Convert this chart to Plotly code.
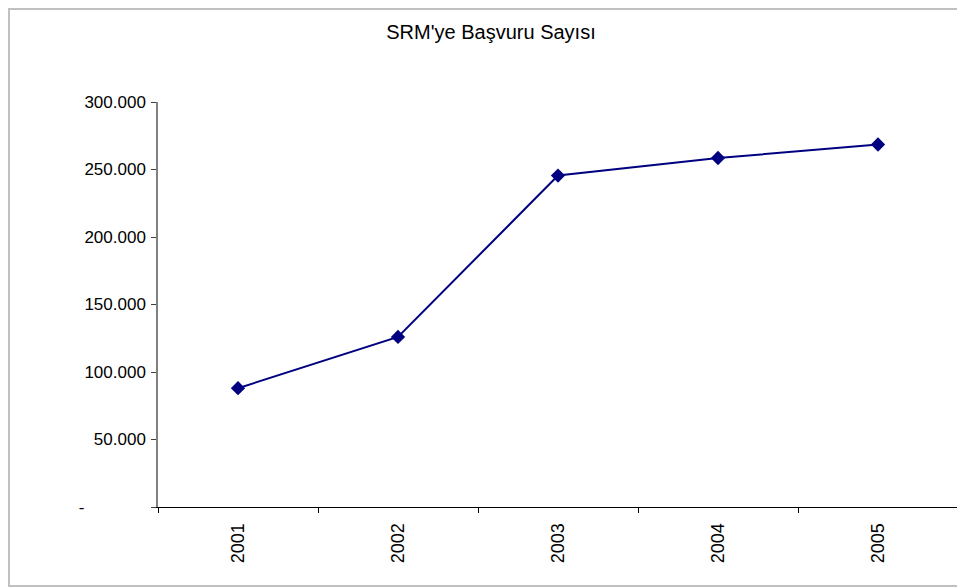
import plotly.graph_objects as go

# data
years = ['2001', '2002', '2003', '2004', '2005']
applications = [88000, 126000, 245500, 258500, 268500]

y_tickvals = [0, 50000, 100000, 150000, 200000, 250000, 300000]
# zero shown as an accounting-style dash, padded to the left like the original
y_ticktext = ['-' + '\u00a0' * 13, '50.000', '100.000', '150.000',
              '200.000', '250.000', '300.000']

title_text = "SRM'ye Başvuru Sayısı"

# page has an 8px body margin, so the figure is shrunk/shifted by that
W, H = 957, 580
L, T, R, B = 150, 94, 7, 81
pw, ph = W - L - R, H - T - B

fig = go.Figure()
fig.add_trace(go.Scatter(
    x=years,
    y=applications,
    mode='lines+markers',
    line=dict(color='#000080', width=2),
    marker=dict(symbol='diamond', size=11, color='#000080'),
    showlegend=False,
))

fig.update_layout(
    width=W, height=H,
    margin=dict(l=L, r=R, t=T, b=B),
    paper_bgcolor='white',
    plot_bgcolor='white',
    font=dict(family='Liberation Sans, Arial, sans-serif', color='black'),
    title=dict(text=title_text, x=483 / W, xref='container', xanchor='center',
               y=1 - 24 / H, yanchor='middle', font=dict(size=20)),
    xaxis=dict(
        type='category',
        range=[-0.5, 4.5],
        showgrid=False,
        zeroline=False,
        showline=True, linecolor='black', linewidth=1,
        ticks='outside', tickson='boundaries', ticklen=5, tickcolor='black',
        tickangle=-90,
        tickfont=dict(size=18),
        ticklabelstandoff=8,
    ),
    yaxis=dict(
        range=[0, 300000],
        tickvals=y_tickvals,
        ticktext=y_ticktext,
        showgrid=False,
        zeroline=False,
        showline=True, linecolor='#808080', linewidth=1.5,
        ticks='outside', ticklen=5, tickcolor='#404040',
        tickfont=dict(size=17),
        ticklabelstandoff=2,
    ),
    shapes=[
        # outer chart-area frame
        dict(type='rect', xref='paper', yref='paper',
             x0=(1 - L) / pw, x1=(W + 5 - L) / pw,
             y0=(H - B - 578) / ph, y1=(H - B - 1) / ph,
             line=dict(color='#c0c0c0', width=2)),
    ],
)

fig.write_html('out.html')
